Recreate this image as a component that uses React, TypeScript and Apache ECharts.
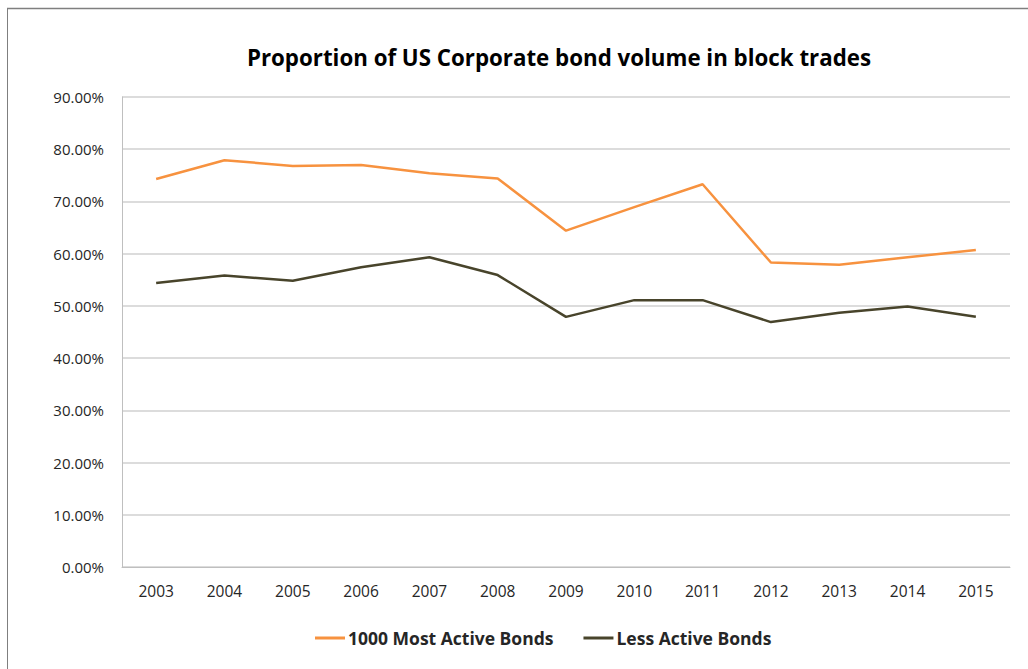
import React, { useEffect, useRef } from "react";
import * as echarts from "echarts";

const years = ["2003", "2004", "2005", "2006", "2007", "2008", "2009", "2010", "2011", "2012", "2013", "2014", "2015"];
const mostActive = [74.3, 77.9, 76.8, 77.0, 75.4, 74.4, 64.4, 68.9, 73.3, 58.3, 57.9, 59.3, 60.7];
const lessActive = [54.4, 55.8, 54.8, 57.4, 59.3, 55.9, 47.9, 51.1, 51.1, 46.9, 48.7, 49.9, 47.9];
const seriesNames = ["1000 Most Active Bonds", "Less Active Bonds"];
const titleText = "Proportion of US Corporate bond volume in block trades";

const FONT = "'Open Sans', 'Liberation Sans', sans-serif";

export default function App() {
  const ref = useRef<HTMLDivElement>(null);
  useEffect(() => {
    if (!ref.current) return;
    const chart = echarts.init(ref.current, null, { renderer: "svg" });
    chart.setOption({
      animation: false,
      backgroundColor: "#ffffff",
      title: {
        text: titleText,
        left: 554,
        textAlign: "center",
        top: 41,
        textStyle: { fontFamily: FONT, fontSize: 22.3, fontWeight: "bold", color: "#000000" },
      },
      legend: {
        bottom: 17,
        left: 310,
        itemWidth: 30,
        itemHeight: 3,
        itemGap: 30,
        icon: "rect",
        textStyle: { fontFamily: FONT, fontSize: 17.5, fontWeight: "bold", color: "#262626", padding: [0, 0, 0, -2] },
        data: seriesNames,
      },
      grid: { left: 122, right: 18, top: 97, bottom: 102, containLabel: false },
      xAxis: {
        type: "category",
        data: years,
        boundaryGap: true,
        axisLine: { show: true, lineStyle: { color: "#bfbfbf", width: 1 } },
        axisTick: { show: false },
        axisLabel: { fontFamily: FONT, fontSize: 15.5, color: "#262626", margin: 16 },
      },
      yAxis: {
        type: "value",
        min: 0,
        max: 90,
        interval: 10,
        axisLine: { show: true, lineStyle: { color: "#bfbfbf", width: 1 } },
        axisTick: { show: false },
        splitLine: { lineStyle: { color: "#d0d0d0", width: 1.5 } },
        axisLabel: {
          fontFamily: FONT,
          fontSize: 15,
          color: "#262626",
          margin: 18,
          formatter: (v: number) => v.toFixed(2) + "%",
        },
      },
      series: [
        {
          name: seriesNames[0],
          type: "line",
          data: mostActive,
          symbol: "none",
          lineStyle: { color: "#f7923f", width: 2.5 },
          itemStyle: { color: "#f7923f" },
        },
        {
          name: seriesNames[1],
          type: "line",
          data: lessActive,
          symbol: "none",
          lineStyle: { color: "#48442b", width: 2.5 },
          itemStyle: { color: "#48442b" },
        },
      ],
      graphic: [
        { type: "line", shape: { x1: 7, y1: 8.5, x2: 1028, y2: 8.5 }, style: { stroke: "#7f7f7f", lineWidth: 1.5 } },
        { type: "line", shape: { x1: 7.5, y1: 8, x2: 7.5, y2: 669 }, style: { stroke: "#7f7f7f", lineWidth: 1 } },
      ],
    });
    return () => chart.dispose();
  }, []);
  return <div ref={ref} style={{ position: "fixed", left: 0, top: 0, width: 1028, height: 669 }} />;
}
